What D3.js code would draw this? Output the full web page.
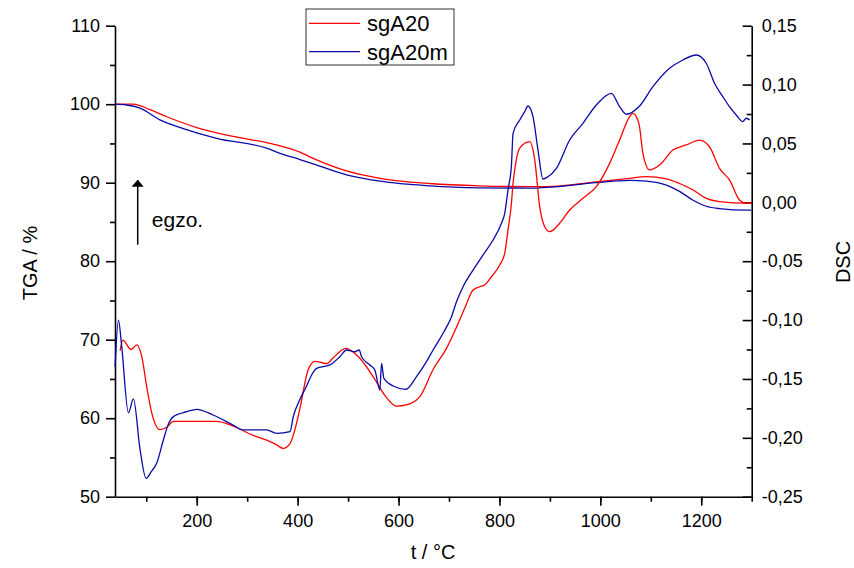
<!DOCTYPE html>
<html>
<head>
<meta charset="utf-8">
<script src="https://cdn.jsdelivr.net/npm/d3@7"></script>
<style>
	body { margin: 0; background: #fff; }
	text { font-family: "Liberation Sans", Arial, sans-serif; fill: #000; }
	.axis path, .axis line { stroke: #000; stroke-width: 1.6; }
	.axis text { font-size: 18px; }
</style>
</head>
<body>
<svg id="chart" width="854" height="568"></svg>
<script>
// TGA curves (temperature °C, mass %)
var tgaA20 = [
	[38, 100], [74, 100], [107.5, 99.3], [140.6, 98.4], [206.5, 96.9], [272, 95.9],
	[338.6, 95.1], [365, 94.7], [404.6, 93.9], [431, 93.1], [497, 91.5], [563, 90.56],
	[662, 89.9], [761, 89.6], [860, 89.5], [893, 89.5], [992, 90.1], [1058, 90.56],
	[1091, 90.77], [1131, 90.5], [1157, 89.9], [1183, 89.1], [1210, 88.0], [1236, 87.6],
	[1289, 87.4], [1299, 87.4]
];
var tgaA20m = [
	[38, 100], [61, 99.9], [87.7, 99.5], [127, 98.0], [173.5, 96.9], [239.6, 95.65],
	[338.6, 94.4], [365, 93.75], [404.6, 92.95], [431, 92.4], [497, 91.0], [563, 90.2],
	[662, 89.6], [761, 89.35], [860, 89.3], [893, 89.4], [992, 90.0], [1058, 90.3],
	[1091, 90.2], [1131, 89.7], [1157, 88.9], [1183, 87.8], [1210, 87.0], [1236, 86.7],
	[1289, 86.5], [1299, 86.5]
];

// DSC curves (temperature °C, DSC signal)
var dscA20 = [
	[48.1, -0.126], [53.5, -0.117], [69.9, -0.125], [81.2, -0.121], [91.1, -0.131],
	[101, -0.157], [110.9, -0.179], [127.3, -0.193], [140.6, -0.191], [153.7, -0.186],
	[180.2, -0.186], [239.6, -0.186], [272.5, -0.190], [312, -0.198], [338.6, -0.202],
	[358.4, -0.206], [371.5, -0.209], [384.8, -0.205], [394.7, -0.193], [404.6, -0.175],
	[421, -0.142], [434.3, -0.135], [457.4, -0.137], [470.5, -0.132], [495.6, -0.124],
	[520, -0.131], [549.7, -0.148], [572.9, -0.164], [596, -0.173], [615.8, -0.172],
	[642.2, -0.165], [668.5, -0.142], [695, -0.124], [714.9, -0.106], [733, -0.088],
	[747.7, -0.0745], [761, -0.0717], [770.9, -0.0702], [784.2, -0.0632], [800.6, -0.0532],
	[810.5, -0.0433], [817, -0.0235], [823.8, -0.0008], [827, 0.0162], [830.3, 0.0275],
	[840.2, 0.0461], [860, 0.0515], [870, 0.0359], [879.8, -0.0037], [889.7, -0.0207],
	[899.6, -0.0249], [919.4, -0.0178], [939.2, -0.0065], [965.5, 0.0034], [992, 0.0133],
	[1018.4, 0.0331], [1038.2, 0.0529], [1058, 0.0727], [1064.6, 0.0756], [1076.4, 0.0671],
	[1084.4, 0.0416], [1097.6, 0.0275], [1117.4, 0.0317], [1143.8, 0.0444], [1170.3, 0.0487],
	[1196.6, 0.0529], [1216.4, 0.0472], [1236.2, 0.0289], [1256, 0.019], [1275.8, 0.002],
	[1289, -0.0008], [1299, -0.0008]
];
var dscA20m = [
	[38.2, -0.1396], [44.8, -0.100], [51, -0.121], [64.6, -0.1787], [74.5, -0.167],
	[87.7, -0.210], [99.6, -0.2344], [109.5, -0.229], [120.8, -0.2214], [133.9, -0.2018],
	[143.2, -0.189], [153.7, -0.182], [180.2, -0.1778], [200, -0.1758], [232.3, -0.1806],
	[271.9, -0.1891], [291.7, -0.1933], [338.6, -0.1933], [358.4, -0.1962], [384.8, -0.1948],
	[391.3, -0.1821], [404.6, -0.1673], [417.8, -0.156], [427.7, -0.1466], [437.6, -0.141],
	[464, -0.1381], [483.8, -0.1311], [497, -0.1254], [513.5, -0.1269], [522, -0.1254],
	[526.7, -0.1311], [543.2, -0.1381], [553, -0.1424], [563, -0.1594], [566.3, -0.1367],
	[570.9, -0.1494], [589.3, -0.156], [614.5, -0.1588], [635.6, -0.1481], [655.4, -0.1353],
	[668.5, -0.1254], [688.3, -0.1112], [705, -0.0971], [714.9, -0.0844], [727.9, -0.0717],
	[747.7, -0.0575], [767.5, -0.0447], [787.3, -0.032], [804, -0.0178], [810.5, -0.0093],
	[817, 0.0105], [823.8, 0.0317], [827, 0.0586], [840.2, 0.0699], [850.1, 0.077],
	[856.6, 0.0818], [866.5, 0.0727], [876.4, 0.0444], [886.3, 0.0198], [895.6, 0.0215],
	[912.9, 0.0289], [939.2, 0.0529], [965.5, 0.0671], [992, 0.0827], [1021.8, 0.0926],
	[1038.2, 0.0812], [1051.5, 0.0748], [1077.8, 0.0818], [1104.2, 0.0982], [1137.2, 0.1138],
	[1163.6, 0.1209], [1190.1, 0.1251], [1209.9, 0.1181], [1226.3, 0.1011], [1242.8, 0.0897],
	[1256, 0.0812], [1269.3, 0.0742], [1282.4, 0.0685], [1289.1, 0.0714], [1296, 0.07]
];

var xTicks = [200, 400, 600, 800, 1000, 1200];
var tgaTicks = [50, 60, 70, 80, 90, 100, 110];
var dscTicks = [-0.25, -0.20, -0.15, -0.10, -0.05, 0.00, 0.05, 0.10, 0.15];

var series = ["sgA20", "sgA20m"];
var colors = ["#ff0000", "#0a0aa8"];

var svg = d3.select("#chart");
var plotLeft = 115, plotRight = 751.7, plotTop = 25.7, plotBottom = 496.7;

var x = d3.scaleLinear().domain([38, 1300]).range([plotLeft, plotRight]);
var yL = d3.scaleLinear().domain([50, 110]).range([plotBottom, plotTop]);
var yR = d3.scaleLinear().domain([-0.25, 0.15]).range([plotBottom, plotTop]);

var fmtR = function(d) { return d3.format(".2f")(d).replace(".", ",").replace("−", "-"); };

// minor ticks
svg.append("g").attr("class", "axis").attr("transform", "translate(0," + plotBottom + ")")
	.call(d3.axisBottom(x).tickValues(d3.range(100, 1301, 100)).tickSize(5).tickFormat(""))
	.select(".domain").remove();
svg.append("g").attr("class", "axis").attr("transform", "translate(" + plotLeft + ",0)")
	.call(d3.axisLeft(yL).tickValues(d3.range(55, 110, 10)).tickSize(5).tickFormat(""))
	.select(".domain").remove();
svg.append("g").attr("class", "axis").attr("transform", "translate(" + plotRight + ",0)")
	.call(d3.axisRight(yR).tickValues(d3.range(-0.225, 0.15, 0.05)).tickSizeInner(-5).tickSizeOuter(0).tickFormat(""))
	.select(".domain").remove();

// major axes
svg.append("g").attr("class", "axis").attr("transform", "translate(0," + plotBottom + ")")
	.call(d3.axisBottom(x).tickValues(xTicks).tickSizeInner(9).tickSizeOuter(0).tickPadding(9).tickFormat(d3.format("d")));
svg.append("g").attr("class", "axis").attr("transform", "translate(" + plotLeft + ",0)")
	.call(d3.axisLeft(yL).tickValues(tgaTicks).tickSizeInner(9).tickSizeOuter(0).tickPadding(6));
svg.append("g").attr("class", "axis").attr("transform", "translate(" + plotRight + ",0)")
	.call(d3.axisRight(yR).tickValues(dscTicks).tickSizeInner(-9).tickSizeOuter(0).tickPadding(10).tickFormat(fmtR));

// curves
var lineL = d3.line().x(function(d) { return x(d[0]); }).y(function(d) { return yL(d[1]); }).curve(d3.curveMonotoneX);
var lineR = d3.line().x(function(d) { return x(d[0]); }).y(function(d) { return yR(d[1]); }).curve(d3.curveMonotoneX);

var gLines = svg.append("g").attr("fill", "none").attr("stroke-width", 1.3);
gLines.append("path").attr("d", lineL(tgaA20)).attr("stroke", colors[0]);
gLines.append("path").attr("d", lineL(tgaA20m)).attr("stroke", colors[1]);
gLines.append("path").attr("d", lineR(dscA20)).attr("stroke", colors[0]);
gLines.append("path").attr("d", lineR(dscA20m)).attr("stroke", colors[1]);

// axis titles
svg.append("text").attr("transform", "translate(37,263) rotate(-90)")
	.attr("text-anchor", "middle").style("font-size", "20px").text("TGA / %");
svg.append("text").attr("transform", "translate(850,262) rotate(-90)")
	.attr("text-anchor", "middle").style("font-size", "20px").text("DSC");
svg.append("text").attr("x", 433).attr("y", 559)
	.attr("text-anchor", "middle").style("font-size", "20px").text("t / °C");

// exo arrow
svg.append("defs").append("marker").attr("id", "head")
	.attr("viewBox", "0 0 10 10").attr("refX", 9).attr("refY", 5)
	.attr("markerWidth", 7).attr("markerHeight", 12).attr("markerUnits", "userSpaceOnUse")
	.attr("orient", "auto").attr("preserveAspectRatio", "none")
	.append("path").attr("d", "M0,0 L10,5 L0,10 z").attr("fill", "#000");
svg.append("line")
	.attr("x1", x(83)).attr("x2", x(83))
	.attr("y1", yL(82.1)).attr("y2", yL(90.3))
	.attr("stroke", "#000").attr("stroke-width", 1.5)
	.attr("marker-end", "url(#head)");
svg.append("text").attr("x", x(111)).attr("y", yL(84.4))
	.style("font-size", "21px").text("egzo.");

// legend
var legend = svg.append("g").attr("transform", "translate(306,9)");
legend.append("rect").attr("width", 148).attr("height", 56)
	.attr("fill", "#fff").attr("stroke", "#333").attr("stroke-width", 1);
series.forEach(function(name, i) {
	var yy = 14.3 + i * 28.4;
	legend.append("line").attr("x1", 3).attr("x2", 54).attr("y1", yy).attr("y2", yy)
		.attr("stroke", colors[i]).attr("stroke-width", 1.3);
	legend.append("text").attr("x", 61).attr("y", yy + 8)
		.style("font-size", "22px").text(name);
});
</script>
</body>
</html>
